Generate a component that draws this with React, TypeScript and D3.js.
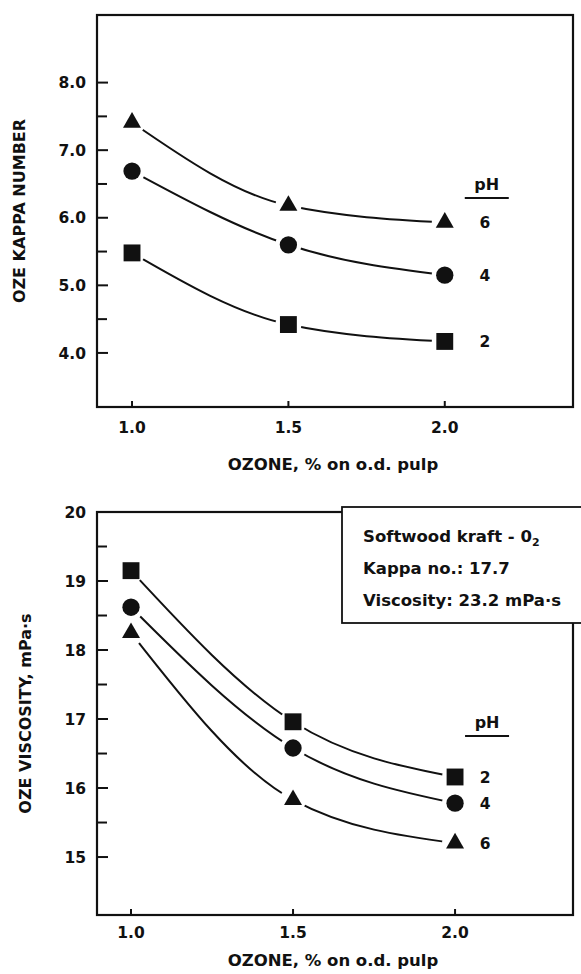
import React from 'react';
import * as d3 from 'd3';

// ozone charge, % on o.d. pulp
const ozone = [1.0, 1.5, 2.0];
const xTickValues = [1.0, 1.5, 2.0];

// OZE kappa number by pH
const kappaPH2 = [5.48, 4.42, 4.17];
const kappaPH4 = [6.69, 5.6, 5.15];
const kappaPH6 = [7.41, 6.18, 5.93];
const kappaMajor = [4, 5, 6, 7, 8];
const kappaMinor = [4.5, 5.5, 6.5, 7.5];

// OZE viscosity (mPa·s) by pH
const viscPH2 = [19.15, 16.96, 16.16];
const viscPH4 = [18.62, 16.58, 15.78];
const viscPH6 = [18.25, 15.83, 15.2];
const viscMajor = [15, 16, 17, 18, 19, 20];
const viscMinor = [15.5, 16.5, 17.5, 18.5, 19.5];

const boxLines = ['Softwood kraft - 0', 'Kappa no.: 17.7', 'Viscosity: 23.2 mPa·s'];

const FONT = '"DejaVu Sans", Arial, sans-serif';

type Series = { ph: string; shape: d3.SymbolType; values: number[] };

function markerPath(shape: d3.SymbolType) {
  const size = shape === d3.symbolTriangle ? 140 : shape === d3.symbolCircle ? 235 : 285;
  return d3.symbol().type(shape).size(size)()!;
}

type PanelProps = {
  frame: { left: number; right: number; top: number; bottom: number };
  xDomain: [number, number];
  yDomain: [number, number];
  major: number[];
  minor: number[];
  fmt: (v: number) => string;
  series: Series[];
  yTitle: string;
  yTitleX: number;
  labelDy: number;
  titleDy: number;
  legendDx: number;
  legendTitleY: number;
  children?: React.ReactNode;
};

const Panel = ({ frame, xDomain, yDomain, major, minor, fmt, series, yTitle, yTitleX, labelDy, titleDy, legendDx, legendTitleY, children }: PanelProps) => {
  const x = d3.scaleLinear().domain(xDomain).range([frame.left, frame.right]);
  const y = d3.scaleLinear().domain(yDomain).range([frame.bottom, frame.top]);
  const line = d3.line<number>()
    .x((_, i) => x(ozone[i]))
    .y(d => y(d))
    .curve(d3.curveMonotoneX);
  const cy = (frame.top + frame.bottom) / 2;
  const cx = (frame.left + frame.right) / 2;
  const legendX = x(2.0) + legendDx;

  return (
    <g fontFamily={FONT} fontWeight="bold" fill="#111">
      {/* curves */}
      {series.map(s => (
        <path key={'l' + s.ph} d={line(s.values)!} fill="none" stroke="#111" strokeWidth={2} />
      ))}
      {/* gaps around markers */}
      {series.map(s => s.values.map((v, i) => (
        <circle key={'h' + s.ph + i} cx={x(ozone[i])} cy={y(v)} r={13} fill="#fff" />
      )))}
      {series.map(s => s.values.map((v, i) => (
        <path key={'m' + s.ph + i} d={markerPath(s.shape)} transform={`translate(${x(ozone[i])},${y(v)})`} fill="#111" />
      )))}

      {/* frame */}
      <rect x={frame.left} y={frame.top} width={frame.right - frame.left} height={frame.bottom - frame.top}
        fill="none" stroke="#111" strokeWidth={2.2} />

      {/* y ticks */}
      {major.map(t => (
        <g key={'yt' + t}>
          <line x1={frame.left} x2={frame.left + 11} y1={y(t)} y2={y(t)} stroke="#111" strokeWidth={2} />
          <text x={frame.left - 11} y={y(t)} dy="0.36em" textAnchor="end" fontSize={15.5}>{fmt(t)}</text>
        </g>
      ))}
      {minor.map(t => (
        <line key={'ym' + t} x1={frame.left} x2={frame.left + 10} y1={y(t)} y2={y(t)} stroke="#111" strokeWidth={2} />
      ))}

      {/* x ticks */}
      {xTickValues.map(t => (
        <g key={'xt' + t}>
          <line x1={x(t)} x2={x(t)} y1={frame.bottom} y2={frame.bottom - 6} stroke="#111" strokeWidth={2} />
          <text x={x(t)} y={frame.bottom + labelDy} textAnchor="middle" fontSize={15.5}>{t.toFixed(1)}</text>
        </g>
      ))}

      <text x={cx - 2} y={frame.bottom + titleDy} textAnchor="middle" fontSize={16.5}>OZONE, % on o.d. pulp</text>
      <text transform={`translate(${yTitleX},${cy}) rotate(-90)`} textAnchor="middle" fontSize={16}>{yTitle}</text>

      {/* pH legend */}
      <text x={legendX + 2} y={legendTitleY} textAnchor="middle" fontSize={16}>pH</text>
      <line x1={legendX - 20} x2={legendX + 24} y1={legendTitleY + 8} y2={legendTitleY + 8} stroke="#111" strokeWidth={2} />
      {series.map(s => (
        <text key={'lg' + s.ph} x={legendX} y={y(s.values[2])} dy="0.36em" textAnchor="middle" fontSize={15.5}>{s.ph}</text>
      ))}
      {children}
    </g>
  );
};

export default function App() {
  const topSeries: Series[] = [
    { ph: '6', shape: d3.symbolTriangle, values: kappaPH6 },
    { ph: '4', shape: d3.symbolCircle, values: kappaPH4 },
    { ph: '2', shape: d3.symbolSquare, values: kappaPH2 },
  ];
  const bottomSeries: Series[] = [
    { ph: '2', shape: d3.symbolSquare, values: viscPH2 },
    { ph: '4', shape: d3.symbolCircle, values: viscPH4 },
    { ph: '6', shape: d3.symbolTriangle, values: viscPH6 },
  ];

  return (
    <div style={{ position: 'absolute', left: 0, top: 0 }}>
      <svg width={581} height={974} style={{ display: 'block', background: '#fff' }}>
        <Panel
          frame={{ left: 97, right: 573, top: 15, bottom: 407 }}
          xDomain={[0.888, 2.41]}
          yDomain={[3.2, 9.0]}
          major={kappaMajor}
          minor={kappaMinor}
          fmt={v => v.toFixed(1)}
          series={topSeries}
          yTitle="OZE KAPPA NUMBER"
          yTitleX={25}
          labelDy={26}
          titleDy={63}
          legendDx={40}
          legendTitleY={190}
        />
        <Panel
          frame={{ left: 97, right: 573, top: 512, bottom: 915 }}
          xDomain={[0.895, 2.364]}
          yDomain={[14.16, 20]}
          major={viscMajor}
          minor={viscMinor}
          fmt={v => String(v)}
          series={bottomSeries}
          yTitle="OZE VISCOSITY, mPa·s"
          yTitleX={31}
          labelDy={23}
          titleDy={51}
          legendDx={30}
          legendTitleY={728}
        >
          <rect x={342} y={507} width={260} height={116} fill="#fff" stroke="#111" strokeWidth={1.8} />
          {boxLines.map((t, i) => (
            <text key={t} x={363} y={542 + i * 32} fontSize={16.5}>
              {t}
              {i === 0 && <tspan fontSize={11} dy={4}>2</tspan>}
            </text>
          ))}
        </Panel>
      </svg>
    </div>
  );
}
